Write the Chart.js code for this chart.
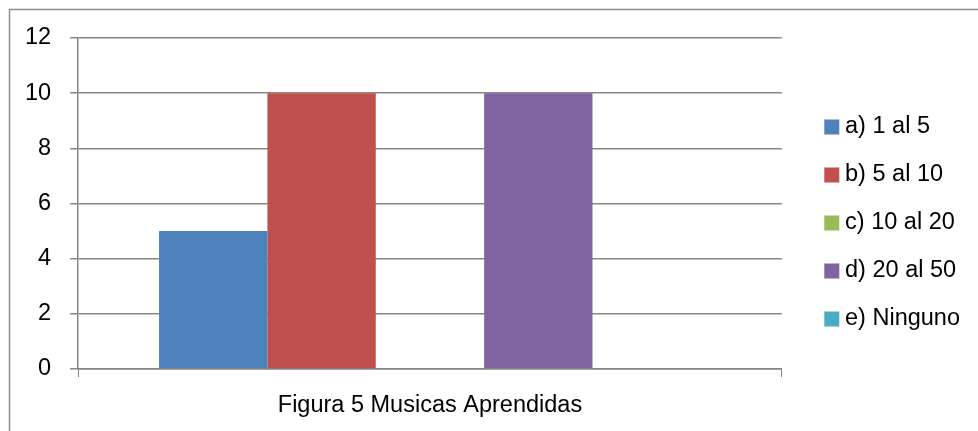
<!DOCTYPE html>
<html lang="es">
<head>
  <meta charset="UTF-8">
  <title>Figura 5 Musicas Aprendidas</title>
  <script src="https://cdn.jsdelivr.net/npm/chart.js"></script>
  <style>
    html, body { margin: 0; padding: 0; background: #fff; }
    #wrap { width: 978px; height: 431px; position: relative; }
  </style>
</head>
<body>
<div id="wrap">
  <canvas id="barChart"></canvas>
</div>

<script>
  const categories = ['Figura 5 Musicas Aprendidas'];
  const seriesLabels = ['a) 1 al 5', 'b) 5 al 10', 'c) 10 al 20', 'd) 20 al 50', 'e) Ninguno'];
  const seriesValues = [5, 10, 0, 10, 0];
  const seriesColors = ['#4F81BD', '#C0504D', '#9BBB59', '#8064A2', '#4BACC6'];
  const yMax = 12;
  const yStep = 2;

  const gridColor = '#868686';
  const fontFamily = '"Liberation Sans", Arial, sans-serif';

  // outer frame of the chart object (cut off at right and bottom)
  const framePlugin = {
    id: 'frame',
    afterLayout(chart) {
      // legend sits a bit away from the plot, like excel does it
      chart.legend.left += 24;
      chart.legend.right += 24;
      chart.legend.top -= 7;
      chart.legend.bottom -= 7;
    },
    beforeDraw(chart) {
      const ctx = chart.ctx;
      ctx.save();
      ctx.strokeStyle = '#8c8c8c';
      ctx.lineWidth = 1.5;
      ctx.beginPath();
      ctx.moveTo(9.5, chart.height);
      ctx.lineTo(9.5, 9.5);
      ctx.lineTo(chart.width, 9.5);
      ctx.stroke();
      ctx.restore();
    }
  };

  const dataSets = [];
  for (let i = 0; i < seriesLabels.length; i++) {
    dataSets.push({
      label: seriesLabels[i],
      data: [seriesValues[i]],
      backgroundColor: seriesColors[i],
      borderWidth: 0,
      barPercentage: 1,
      categoryPercentage: 0.77
    });
  }

  new Chart(document.getElementById('barChart'), {
    type: 'bar',
    data: {
      labels: categories,
      datasets: dataSets
    },
    plugins: [framePlugin],
    options: {
      animation: false,
      responsive: true,
      maintainAspectRatio: false,
      layout: {
        padding: { left: 6, right: 32, top: 38, bottom: 9 }
      },
      plugins: {
        legend: {
          position: 'right',
          labels: {
            color: '#000',
            font: { family: fontFamily, size: 23.5 },
            usePointStyle: true,
            pointStyle: 'rect',
            boxWidth: 3,
            boxHeight: 15,
            padding: 24.5
          }
        },
        tooltip: { enabled: false }
      },
      scales: {
        x: {
          afterFit(scale) {
            scale.height = 53;
          },
          grid: {
            display: true,
            drawOnChartArea: false,
            drawTicks: true,
            tickLength: 8,
            color: gridColor
          },
          border: { display: true, color: gridColor, width: 1.5 },
          ticks: {
            color: '#000',
            padding: 14,
            font: { family: fontFamily, size: 23.5 }
          }
        },
        y: {
          min: 0,
          max: yMax,
          grid: {
            color: gridColor,
            lineWidth: 1.5,
            tickLength: 8
          },
          border: { display: true, color: gridColor, width: 1.5 },
          ticks: {
            stepSize: yStep,
            color: '#000',
            padding: 19,
            font: { family: fontFamily, size: 23.5 }
          }
        }
      }
    }
  });
</script>
</body>
</html>
